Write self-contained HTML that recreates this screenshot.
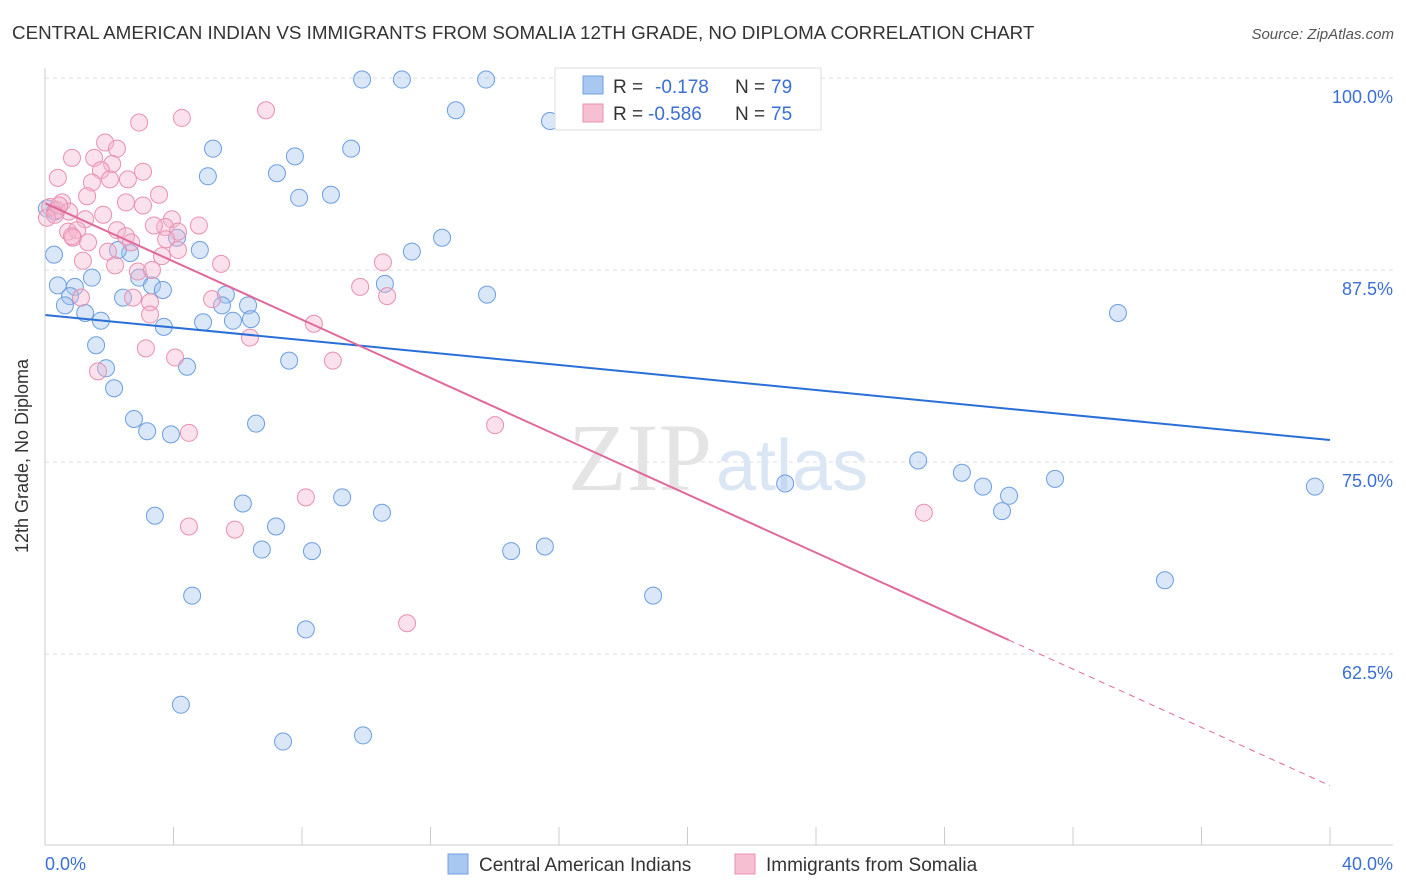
<!DOCTYPE html>
<html><head><meta charset="utf-8">
<style>
body{margin:0;background:#fff;font-family:"Liberation Sans",sans-serif;}
svg{display:block}
</style></head>
<body>
<svg id="chart" width="1406" height="892" xmlns="http://www.w3.org/2000/svg">
<text x="12" y="39" font-size="18.8" fill="#333">CENTRAL AMERICAN INDIAN VS IMMIGRANTS FROM SOMALIA 12TH GRADE, NO DIPLOMA CORRELATION CHART</text>
<text x="1394" y="39" font-size="15" fill="#555" text-anchor="end" font-style="italic">Source: ZipAtlas.com</text>
<g id="grid"></g>
<text x="712" y="490" font-size="96" fill="#e4e4e4" text-anchor="end" font-family="Liberation Serif,serif">ZIP</text>
<text x="716" y="490" font-size="72" fill="#dbe6f5">atlas</text>
<g id="pts"></g>
<g id="trends"></g>
<line x1="45" y1="68" x2="45" y2="845" stroke="#ccc"/>
<line x1="45" y1="845" x2="1393" y2="845" stroke="#ccc"/>
<g id="xticks"></g>
<text x="28" y="456" font-size="18" fill="#333" text-anchor="middle" transform="rotate(-90 28 456)">12th Grade, No Diploma</text>
<text x="45" y="870" font-size="18" fill="#3b6fd4">0.0%</text>
<text x="1393" y="870" font-size="18" fill="#3b6fd4" text-anchor="end">40.0%</text>
<g>
<rect x="555" y="68" width="266" height="62" fill="#fff" stroke="#ddd"/>
<rect x="583" y="76" width="20" height="18" fill="#a8c8f0" stroke="#6fa0e0"/>
<text x="613" y="93" font-size="19" fill="#333">R = </text>
<text x="655" y="93" font-size="19" fill="#3b6fd4">-0.178</text>
<text x="735" y="93" font-size="19" fill="#333">N = </text>
<text x="771" y="93" font-size="19" fill="#3b6fd4">79</text>
<rect x="583" y="104" width="20" height="18" fill="#f6bfd2" stroke="#e890b0"/>
<text x="613" y="120" font-size="19" fill="#333">R = </text>
<text x="648" y="120" font-size="19" fill="#3b6fd4">-0.586</text>
<text x="735" y="120" font-size="19" fill="#333">N = </text>
<text x="771" y="120" font-size="19" fill="#3b6fd4">75</text>
</g>
<g>
<rect x="448" y="854" width="20" height="20" fill="#a8c8f0" stroke="#6fa0e0"/>
<text x="479" y="871" font-size="19" fill="#333">Central American Indians</text>
</g>
<g>
<rect x="735" y="854" width="20" height="20" fill="#f6bfd2" stroke="#e890b0"/>
<text x="766" y="871" font-size="19" fill="#333">Immigrants from Somalia</text>
</g>
</svg>
<script>
const yTicks=[100,87.5,75,62.5];
const yTickLabels=["100.0%","87.5%","75.0%","62.5%"];
const xTicks=[0,4,8,12,16,20,24,28,32,36,40];
const blueX=[9.87,11.11,13.73,22.26,12.79,15.72,5.23,9.53,7.78,5.07,7.22,8.90,7.91,0.06,0.31,4.11,12.36,11.42,4.82,2.65,2.27,0.28,1.46,2.93,10.58,0.40,0.93,0.78,3.33,3.67,2.43,5.63,13.76,0.62,1.25,6.32,5.51,1.74,4.92,5.85,6.41,3.70,33.40,1.59,7.60,4.42,1.90,2.15,2.77,3.18,3.92,6.57,27.18,28.54,29.20,31.44,30.01,23.04,39.53,6.16,9.25,3.42,10.49,29.79,7.19,6.75,8.31,14.51,15.56,34.86,4.58,18.93,8.12,4.23,9.90,7.41];
const blueY=[99.9,99.9,99.9,99.9,97.9,97.2,95.4,95.4,94.9,93.6,93.8,92.4,92.2,91.5,91.3,89.6,89.6,88.7,88.8,88.6,88.8,88.5,87.0,87.0,86.6,86.5,86.4,85.8,86.5,86.2,85.7,85.9,85.9,85.2,84.7,85.2,85.2,84.2,84.1,84.2,84.3,83.8,84.7,82.6,81.6,81.2,81.1,79.8,77.8,77.0,76.8,77.5,75.1,74.3,73.4,73.9,72.8,73.6,73.4,72.3,72.7,71.5,71.7,71.8,70.8,69.3,69.2,69.2,69.5,67.3,66.3,66.3,64.1,59.2,57.2,56.8];
const pinkX=[6.88,2.93,4.26,1.87,2.24,0.84,1.53,2.09,3.05,1.74,0.40,1.46,2.02,2.58,3.55,1.31,0.53,2.52,3.05,0.16,0.37,0.75,1.81,0.06,1.25,3.95,4.79,3.74,3.39,0.72,1.00,2.24,4.14,2.52,0.87,1.34,3.77,2.68,1.96,4.14,3.64,5.48,1.18,2.18,2.89,3.33,10.52,9.81,10.65,1.12,2.74,5.20,3.27,3.27,8.37,6.38,3.14,4.05,8.96,1.65,4.48,14.01,8.12,4.48,5.91,27.36,11.27,0.44,0.31,0.84];
const pinkY=[97.9,97.1,97.4,95.8,95.4,94.8,94.8,94.4,93.9,94.0,93.5,93.2,93.4,93.4,92.4,92.3,91.9,91.9,91.7,91.6,91.4,91.3,91.1,90.9,90.8,90.8,90.4,90.3,90.4,90.0,90.1,90.1,90.0,89.7,89.6,89.3,89.5,89.3,88.7,88.8,88.4,87.9,88.1,87.8,87.4,87.5,88.0,86.4,85.8,85.7,85.7,85.6,85.4,84.6,84.0,83.1,82.4,81.8,81.6,80.9,76.9,77.4,72.7,70.8,70.6,71.7,64.5,91.7,91.1,89.7];
const blueTrend=[84.57,-0.2035];
const pinkTrend=[91.85,-0.948];
const pinkSolidEnd=30;
const NS="http://www.w3.org/2000/svg";
const X=v=>45+v*32.125, Y=v=>78+(100-v)*15.36;
function mk(t,a,p){const e=document.createElementNS(NS,t);for(const k in a)e.setAttribute(k,a[k]);p.appendChild(e);return e;}
const grid=document.getElementById('grid');
yTicks.forEach((v,i)=>{
 const l=mk('line',{x1:45,x2:1393,y1:Y(v),y2:Y(v),stroke:'#ddd','stroke-dasharray':'4,4'},grid);
 
 
 const t=mk('text',{x:1393,y:Y(v)+25,'font-size':18,fill:'#3b6fd4','text-anchor':'end'},grid);
 t.textContent=yTickLabels[i];
 
 
});
const xt=document.getElementById('xticks');
xTicks.forEach(v=>{
 const l=mk('line',{x1:X(v),x2:X(v),y1:827,y2:845,stroke:'#ccc'},xt);
 
 
});
const pts=document.getElementById('pts');
blueX.forEach((x,i)=>{
 const c=mk('circle',{cx:X(x),cy:Y(blueY[i]),r:8.5,fill:'rgba(160,195,240,0.4)',stroke:'#6b9ee0','stroke-width':1},pts);
 
 
});
pinkX.forEach((x,i)=>{
 const c=mk('circle',{cx:X(x),cy:Y(pinkY[i]),r:8.5,fill:'rgba(246,180,205,0.4)',stroke:'#e890b0','stroke-width':1},pts);
 
 
});
const tr=document.getElementById('trends');
const bl=mk('line',{x1:X(0),y1:Y(blueTrend[0]),x2:X(40),y2:Y(blueTrend[0]+blueTrend[1]*40),stroke:'#2a6fd8','stroke-width':2},tr);


const pl=mk('line',{x1:X(0),y1:Y(pinkTrend[0]),x2:X(pinkSolidEnd),y2:Y(pinkTrend[0]+pinkTrend[1]*pinkSolidEnd),stroke:'#e0689a','stroke-width':2},tr);


const pd=mk('line',{x1:X(pinkSolidEnd),y1:Y(pinkTrend[0]+pinkTrend[1]*pinkSolidEnd),x2:X(40),y2:Y(pinkTrend[0]+pinkTrend[1]*40),stroke:'#e0689a','stroke-width':1,'stroke-dasharray':'6,5'},tr);


</script>
</body></html>
